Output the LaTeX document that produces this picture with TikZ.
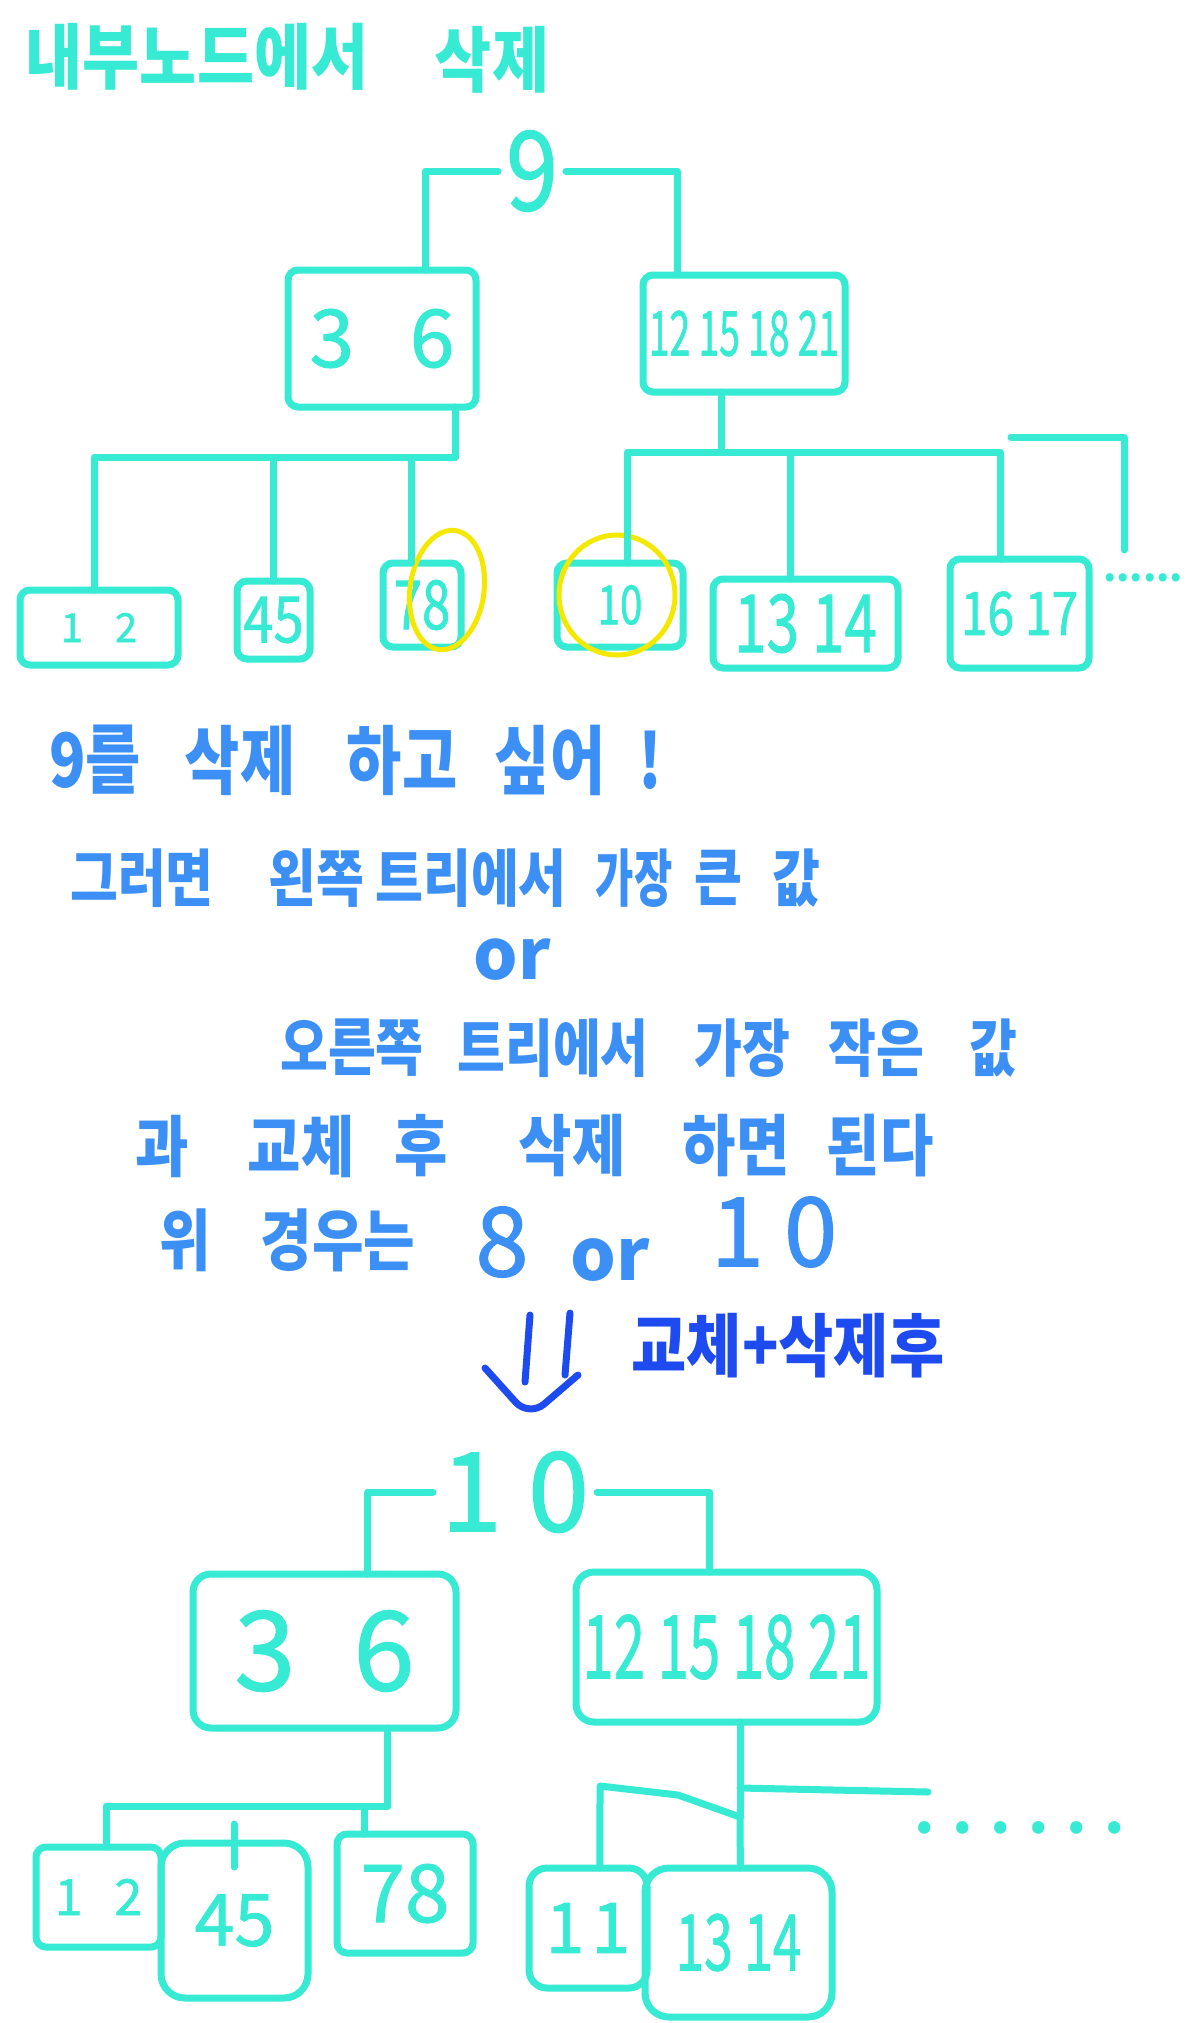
\documentclass[tikz,border=0pt]{standalone}
\usepackage{fontspec}
\usepackage{graphicx}
\newfontfamily\kr{Noto Sans CJK KR}
\newfontfamily\krm{Noto Sans CJK KR}[FakeBold=1.2]
\usetikzlibrary{calc}
\definecolor{tcyan}{RGB}{54,234,212}
\definecolor{tblue}{RGB}{59,143,245}
\definecolor{tdark}{RGB}{30,75,240}
\definecolor{tyel}{RGB}{245,232,0}
\newcommand\sx[2]{\scalebox{#1}[1]{#2}}
\newcommand\sy[2]{\scalebox{1}[#1]{#2}}
\newcommand\fs[1]{\fontsize{#1pt}{#1pt}\selectfont}
\begin{document}
\begin{tikzpicture}[x=0.5pt,y=-0.5pt,
  every node/.style={inner sep=0pt, outer sep=0pt},
  line/.style={draw=tcyan, line width=3.5pt, line cap=round, line join=round},
  keybox/.style={draw=tcyan, line width=3.5pt, rounded corners=5pt, text=tcyan, font=\krm},
  rootkey/.style={text=tcyan, font=\krm, outer sep=4pt},
  lbl/.style={text=tcyan, font=\kr\bfseries},
  note/.style={text=tblue, font=\kr\bfseries},
  dnote/.style={text=tdark, font=\kr\bfseries},
  hilite/.style={draw=tyel, line width=2.5pt},
  arr/.style={draw=tdark, line width=3.5pt, line cap=round, line join=round}]
\fill[white] (0,0) rectangle (1200,2023);
\useasboundingbox (0,0) rectangle (1200,2023);

% title
\node[lbl] (t1) at (197,57) {\fs{31}\sy{1.15}{내부노드에서}};
\node[lbl] (t2) at (492,60) {\fs{31}\sy{1.15}{삭제}};

% ---------- top tree ----------
\node[rootkey] (root9) at (532,171) {\fs{55}\sx{0.85}{9}};
\node[keybox, minimum width=94pt, minimum height=68.5pt] (L1) at (382,338.5) {\fs{40}3\hspace{28pt}6};
\node[keybox, minimum width=101pt, minimum height=58.5pt] (R1) at (744,333.5) {\fs{31}\sx{0.6}{12 15 18 21}};

\node[keybox, minimum width=79pt, minimum height=37.5pt] (A) at (99,627.5) {\fs{20}1\hspace{16pt}2};
\node[keybox, minimum width=36.5pt, minimum height=39pt] (B) at (273.5,620) {\fs{32}\sx{0.85}{45}};
\node[keybox, minimum width=39pt, minimum height=42pt] (C) at (422,605) {\fs{34}\sx{0.75}{78}};
\node[keybox, minimum width=63pt, minimum height=42pt] (D) at (620,605) {\fs{27}\sx{0.75}{10}};
\node[keybox, minimum width=92.5pt, minimum height=44.5pt] (E) at (805.5,623.5) {\fs{40}\sx{0.73}{13 14}};
\node[keybox, minimum width=69.5pt, minimum height=54.5pt] (F) at (1019.5,613.5) {\fs{30}\sx{0.8}{16 17}};
\node[lbl] (dots1) at (1143,578) {\fs{19}......};

\draw[hilite, rotate around={-8:(447,590)}] (447,590) ellipse [x radius=37, y radius=60];
\draw[hilite] (617,595) ellipse [x radius=58, y radius=60];

\draw[line] (root9.west) -| ($(L1.north west)!0.73!(L1.north east)$);
\draw[line] (root9.east) -| ($(R1.north west)!0.17!(R1.north east)$);

\draw[line] ($(L1.south west)!0.89!(L1.south east)$) -- ++(0,50) coordinate (l1bus)
   -| ($(A.north west)!0.47!(A.north east)$);
\draw[line] (l1bus) -| (B.north);
\draw[line] (l1bus) -| ($(C.north west)!0.37!(C.north east)$);

\draw[line] ($(R1.south west)!0.39!(R1.south east)$) -- ++(0,60) coordinate (r1bus)
   -| ($(D.north west)!0.56!(D.north east)$);
\draw[line] (r1bus) -| ($(E.north west)!0.42!(E.north east)$);
\draw[line] (r1bus) -| ($(F.north west)!0.36!(F.north east)$);
\coordinate (s1) at (1011,437);
\coordinate (s2) at (1124,550);
\draw[line] (s1) -| (s2);

% ---------- notes ----------
\node[note] (n21) at (95,760) {\fs{30}\sy{1.25}{9를}};
\node[note] (n22) at (240,760) {\fs{30}\sy{1.25}{삭제}};
\node[note] (n23) at (402,760) {\fs{30}\sy{1.25}{하고}};
\node[note] (n24) at (550,760) {\fs{30}\sy{1.25}{싶어}};
\node[note] (n25) at (650,760) {\fs{30}\sy{1.25}{!}};

\node[note] (n31) at (142,878) {\fs{26}\sy{1.2}{그러면}};
\node[note] (n32) at (316,878) {\fs{26}\sy{1.2}{왼쪽}};
\node[note] (n33) at (471,878) {\fs{26}\sy{1.2}{트리에서}};
\node[note] (n34) at (634,878) {\fs{26}\sy{1.2}{\sx{0.8}{가장}}};
\node[note] (n35) at (718,878) {\fs{26}\sy{1.2}{큰}};
\node[note] (n36) at (796,878) {\fs{26}\sy{1.2}{값}};

\node[note] (n4) at (512,960) {\fs{35}or};

\node[note] (n51) at (352,1048) {\fs{26}\sy{1.2}{오른쪽}};
\node[note] (n52) at (553,1048) {\fs{26}\sy{1.2}{트리에서}};
\node[note] (n53) at (742,1048) {\fs{26}\sy{1.2}{가장}};
\node[note] (n54) at (876,1048) {\fs{26}\sy{1.2}{작은}};
\node[note] (n55) at (993,1048) {\fs{26}\sy{1.2}{값}};

\node[note] (n61) at (162,1146) {\fs{29}\sy{1.15}{과}};
\node[note] (n62) at (301,1146) {\fs{29}\sy{1.15}{교체}};
\node[note] (n63) at (421,1146) {\fs{29}\sy{1.15}{후}};
\node[note] (n64) at (572,1146) {\fs{29}\sy{1.15}{삭제}};
\node[note] (n65) at (736,1146) {\fs{29}\sy{1.15}{하면}};
\node[note] (n66) at (880,1146) {\fs{29}\sy{1.15}{된다}};

\node[note] (n71) at (185,1240) {\fs{28}\sy{1.2}{위}};
\node[note] (n72) at (338,1240) {\fs{28}\sy{1.2}{경우는}};
\node[note, font=\krm] (n73) at (502,1242) {\fs{48}8};
\node[note] (n74) at (610,1260) {\fs{36}or};
\node[note, font=\krm] (n75) at (774,1232) {\fs{48}1\kern10pt0};

% arrow
\coordinate (a1) at (530,1315);
\coordinate (a2) at (525,1382);
\coordinate (a3) at (570,1313);
\coordinate (a4) at (565,1375);
\coordinate (v1) at (485,1368);
\coordinate (v2) at (529,1417);
\coordinate (v3) at (578,1375);
\draw[arr] (a1) -- (a2);
\draw[arr] (a3) -- (a4);
\draw[arr, rounded corners=10pt] (v1) -- (v2) -- (v3);
\node[dnote] (n8) at (788,1346) {\fs{30}\sy{1.15}{교체+삭제후}};

% ---------- bottom tree ----------
\node[rootkey] (root10) at (515,1492) {\fs{55}1\kern13pt0};
\node[keybox, rounded corners=9pt, minimum width=131.5pt, minimum height=77pt] (L2) at (324.5,1651) {\fs{55}3\hspace{29pt}6};
\node[keybox, rounded corners=9pt, minimum width=150.5pt, minimum height=75pt] (R2) at (726.5,1647) {\fs{44}\sx{0.64}{12 15 18 21}};

\node[keybox, minimum width=62.5pt, minimum height=50pt] (A2) at (98.5,1897) {\fs{25}1\hspace{16pt}2};
\node[keybox, rounded corners=12pt, minimum width=73.5pt, minimum height=77.5pt] (B2) at (234.5,1920.5) {\fs{36}45};
\node[keybox, minimum width=68pt, minimum height=59.5pt] (C2) at (405,1893.5) {\fs{40}78};
\node[keybox, rounded corners=9pt, minimum width=59pt, minimum height=60pt] (D2) at (588,1928) {\fs{35}1\hspace{3.5pt}1};
\node[keybox, rounded corners=12pt, minimum width=93.5pt, minimum height=74.5pt] (E2) at (738.5,1942.5) {\fs{39}\sx{0.66}{13 14}};
\node[lbl] (dots2) at (1020,1828) {\fs{29}. . . . . .};

\draw[line] (root10.west) -| ($(L2.north west)!0.665!(L2.north east)$);
\draw[line] (root10.east) -| ($(R2.north west)!0.445!(R2.north east)$);

\draw[line] ($(L2.south west)!0.74!(L2.south east)$) -- ++(0,78) coordinate (l2bus)
   -| ($(A2.north west)!0.56!(A2.north east)$);
\draw[line] (l2bus) -| ($(C2.north west)!0.2!(C2.north east)$);
\coordinate (k1) at (234,1824);
\coordinate (k2) at (234,1867);
\draw[line] (k1) -- (k2);

\draw[line] ($(R2.south west)!0.545!(R2.south east)$) -- ++(0,95) coordinate (r2j);
\draw[line] (r2j) -- ++(-62,-22) -- ++(-78,-9) -- ($(D2.north west)!0.6!(D2.north east)$);
\draw[line] (r2j) -- ($(E2.north west)!0.51!(E2.north east)$);
\coordinate (rb) at (928,1792);
\draw[line] ($(r2j)+(0,-29)$) -- (rb);
\end{tikzpicture}
\end{document}
